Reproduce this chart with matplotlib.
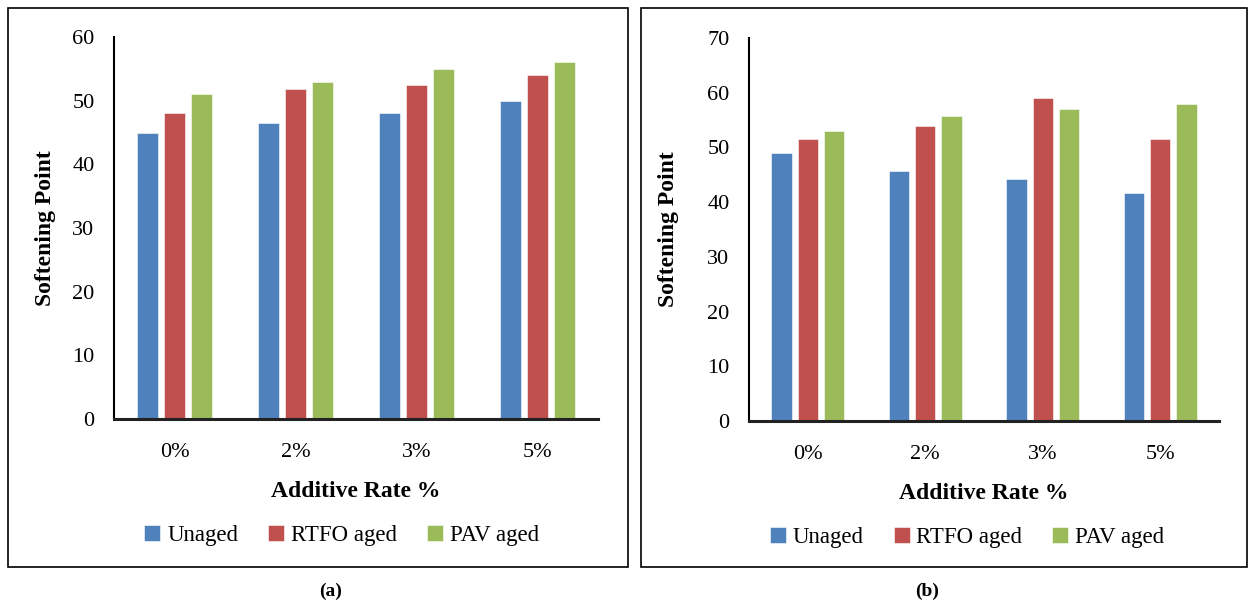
import numpy as np
import matplotlib.pyplot as plt
from matplotlib.patches import Rectangle

# -----------------------------
# Data
# -----------------------------
categories = ['0%', '2%', '3%', '5%']
series_names = ['Unaged', 'RTFO aged', 'PAV aged']

a_unaged = [45, 46.5, 48, 50]
a_rtfo = [48, 51.8, 52.5, 54]
a_pav = [51, 53, 55, 56]

b_unaged = [49, 45.7, 44.2, 41.7]
b_rtfo = [51.5, 54, 59, 51.5]
b_pav = [53, 55.8, 57, 58]

colors = ['#4F81BD', '#C0504D', '#9BBB59']

plt.rcParams['font.family'] = ['Liberation Serif', 'DejaVu Serif']

W, H = 1248, 605
fig = plt.figure(figsize=(W / 100, H / 100), dpi=100)


def px_axes(x0, y0, x1, y1):
    # pixel box (top-left origin) -> figure fraction axes
    return fig.add_axes([x0 / W, 1 - y1 / H, (x1 - x0) / W, (y1 - y0) / H])


def draw_panel(ax, vals, ymax, legend_x, ylabel_x):
    x = np.arange(len(categories))
    width = 0.174
    step = 0.223
    for i, (name, v) in enumerate(zip(series_names, vals)):
        ax.bar(x + (i - 1) * step, v, width, color=colors[i], label=name,
               edgecolor='white', linewidth=0.4)
    ax.set_xlim(-0.5, len(categories) - 0.5)
    ax.set_ylim(0, ymax)
    ax.set_yticks(np.arange(0, ymax + 1, 10))
    ax.set_xticks(x)
    ax.set_xticklabels(categories)
    ax.tick_params(axis='both', length=0, labelsize=16)
    ax.tick_params(axis='x', pad=17)
    ax.tick_params(axis='y', pad=14)
    for s in ['top', 'right']:
        ax.spines[s].set_visible(False)
    ax.spines['left'].set_linewidth(1.5)
    ax.spines['bottom'].set_linewidth(2.2)
    ax.spines['bottom'].set_color('#222222')
    ax.set_ylabel('Softening Point', fontsize=17, fontweight='bold')
    ax.yaxis.set_label_coords(ylabel_x, 0.5)
    ax.set_xlabel('Additive Rate %', fontsize=17, fontweight='bold', labelpad=14)
    ax.legend(loc='center', bbox_to_anchor=(legend_x, -0.305), ncol=3, frameon=False,
              fontsize=16.5, handlelength=0.7, handleheight=0.7, handletextpad=0.3,
              columnspacing=1.3)


ax_a = px_axes(114, 37, 598, 419)
draw_panel(ax_a, [a_unaged, a_rtfo, a_pav], 60, 0.47, -0.12)

ax_b = px_axes(749, 38, 1219, 421)
draw_panel(ax_b, [b_unaged, b_rtfo, b_pav], 70, 0.464, -0.148)

# panel frames
fig.patches.append(Rectangle((8 / W, 1 - 567 / H), 620 / W, 559 / H, transform=fig.transFigure,
                             fill=False, edgecolor='black', linewidth=1.2))
fig.patches.append(Rectangle((641 / W, 1 - 567 / H), 606 / W, 559 / H, transform=fig.transFigure,
                             fill=False, edgecolor='black', linewidth=1.2))

fig.text(331 / W, 1 - 591 / H, '(a)', ha='center', va='center', fontsize=14, fontweight='bold')
fig.text(927 / W, 1 - 591 / H, '(b)', ha='center', va='center', fontsize=14, fontweight='bold')

fig.savefig('out.png', dpi=100)
